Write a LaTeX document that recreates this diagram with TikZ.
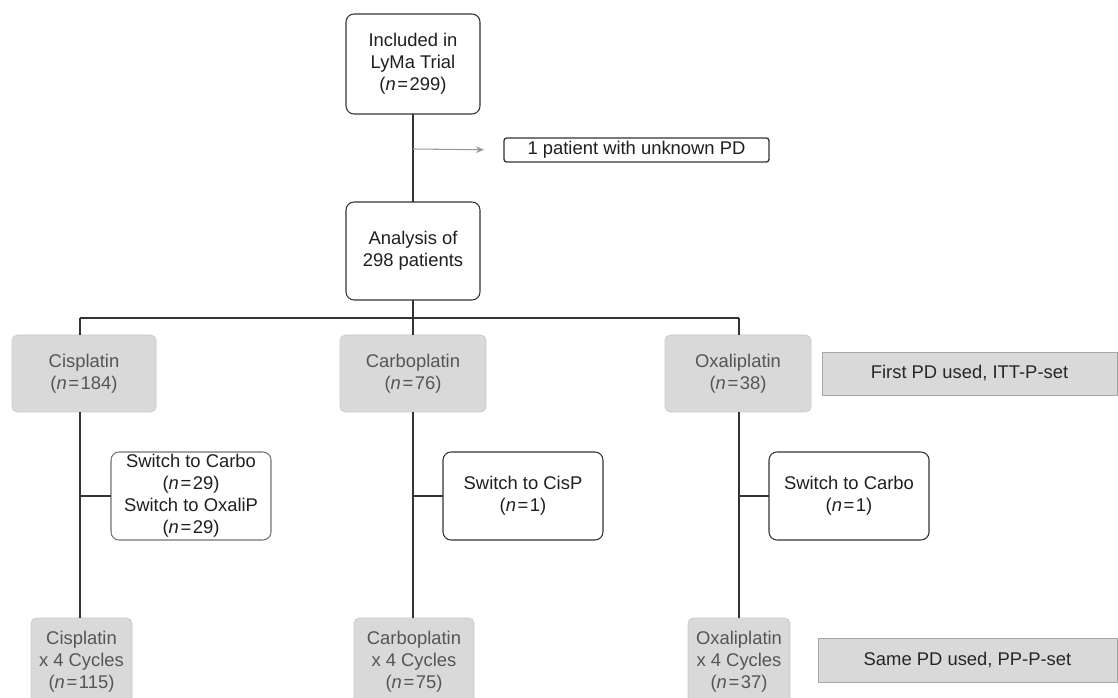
\documentclass[tikz,border=0pt]{standalone}
\usepackage{fontspec}
\setmainfont{Liberation Sans}
\usetikzlibrary{arrows.meta}
\definecolor{linec}{HTML}{333333}
\definecolor{boxfill}{HTML}{D9D9D9}
\definecolor{greytext}{HTML}{555555}
\newcommand{\nn}[1]{(\textit{n}\kern1.2pt=\kern1.2pt#1)}
\begin{document}
\begin{tikzpicture}[x=0.75pt,y=-0.75pt,
  font=\fontsize{13.8}{16.5}\selectfont,
  base/.style={align=center,inner sep=0pt,outer sep=0pt},
  wbox/.style={base,draw=linec,line width=0.8pt,fill=white,rounded corners=6pt,text=black!88},
  gbox/.style={base,fill=boxfill,draw=boxfill!92!black,line width=0.5pt,rounded corners=4pt,text=greytext},
  setbox/.style={base,fill=boxfill,draw=black!35,line width=0.7pt,text=black!85},
  conn/.style={draw=linec,line width=1.3pt},
  side/.style={draw=black!40,line width=0.8pt,-{Stealth[length=6pt,width=5pt]}}]
\useasboundingbox (0,0) rectangle (1118,698);
\clip (0,0) rectangle (1118,698);

% top of the flow
\node[wbox,minimum width=100.5pt,minimum height=75pt] (incl) at (413,64)
  {Included in\\LyMa Trial\\\nn{299}};
\node[wbox,rounded corners=2pt,line width=1pt,minimum width=198.75pt,minimum height=18pt] (unk) at (636.5,150)
  {1 patient with unknown PD};
\node[wbox,minimum width=100.5pt,minimum height=73.5pt] (anal) at (413,251)
  {Analysis of\\298 patients};

% first platinum derivative
\node[gbox,minimum width=108pt,minimum height=57.75pt] (cis) at (84,373.5)
  {Cisplatin\\\nn{184}};
\node[gbox,minimum width=109.5pt,minimum height=57.75pt] (carb) at (413,373.5)
  {Carboplatin\\\nn{76}};
\node[gbox,minimum width=109.5pt,minimum height=57.75pt] (oxa) at (738,373.5)
  {Oxaliplatin\\\nn{38}};
\node[setbox,minimum width=221.25pt,minimum height=32.25pt] (itt) at (969.5,373.5)
  {First PD used, ITT-P-set};

% switches
\node[wbox,draw=black!55,minimum width=120pt,minimum height=66pt] (sw1) at (191,496)
  {Switch to Carbo\\\nn{29}\\Switch to OxaliP\\\nn{29}};
\node[wbox,minimum width=120pt,minimum height=66pt] (sw2) at (523,496)
  {Switch to CisP\\\nn{1}};
\node[wbox,minimum width=120pt,minimum height=66pt] (sw3) at (849,496)
  {Switch to Carbo\\\nn{1}};

% completed cycles
\node[gbox,anchor=north,minimum width=75.75pt,minimum height=66pt] (cis4) at (81.5,618)
  {Cisplatin\\x 4 Cycles\\\nn{115}};
\node[gbox,anchor=north,minimum width=90pt,minimum height=66pt] (carb4) at (414,618)
  {Carboplatin\\x 4 Cycles\\\nn{75}};
\node[gbox,anchor=north,minimum width=76.5pt,minimum height=66pt] (oxa4) at (739,618)
  {Oxaliplatin\\x 4 Cycles\\\nn{37}};
\node[setbox,minimum width=224.25pt,minimum height=33pt] (pp) at (967.5,660)
  {Same PD used, PP-P-set};

% connectors
\coordinate (exitpt) at (413,149);
\coordinate (split) at (413,318);
\coordinate (colA) at (80,318);
\coordinate (colC) at (739,318);
\draw[conn] (incl) -- (anal);
\draw[side,shorten >=15pt] (exitpt) -- (unk.west);
\draw[conn] (anal) -- (split);
\draw[conn] (colA) -- (colC);
\draw[conn] (colA) -- (colA |- cis.north);
\draw[conn] (split) -- (carb);
\draw[conn] (colC) -- (colC |- oxa.north);
\draw[conn] (colA |- cis.south) -- (colA |- cis4.north);
\draw[conn] (carb) -- (carb.south |- carb4.north);
\draw[conn] (colC |- oxa.south) -- (colC |- oxa4.north);
\draw[conn] (colA |- sw1.west) -- (sw1.west);
\draw[conn] (carb.south |- sw2.west) -- (sw2.west);
\draw[conn] (colC |- sw3.west) -- (sw3.west);
\end{tikzpicture}
\end{document}
